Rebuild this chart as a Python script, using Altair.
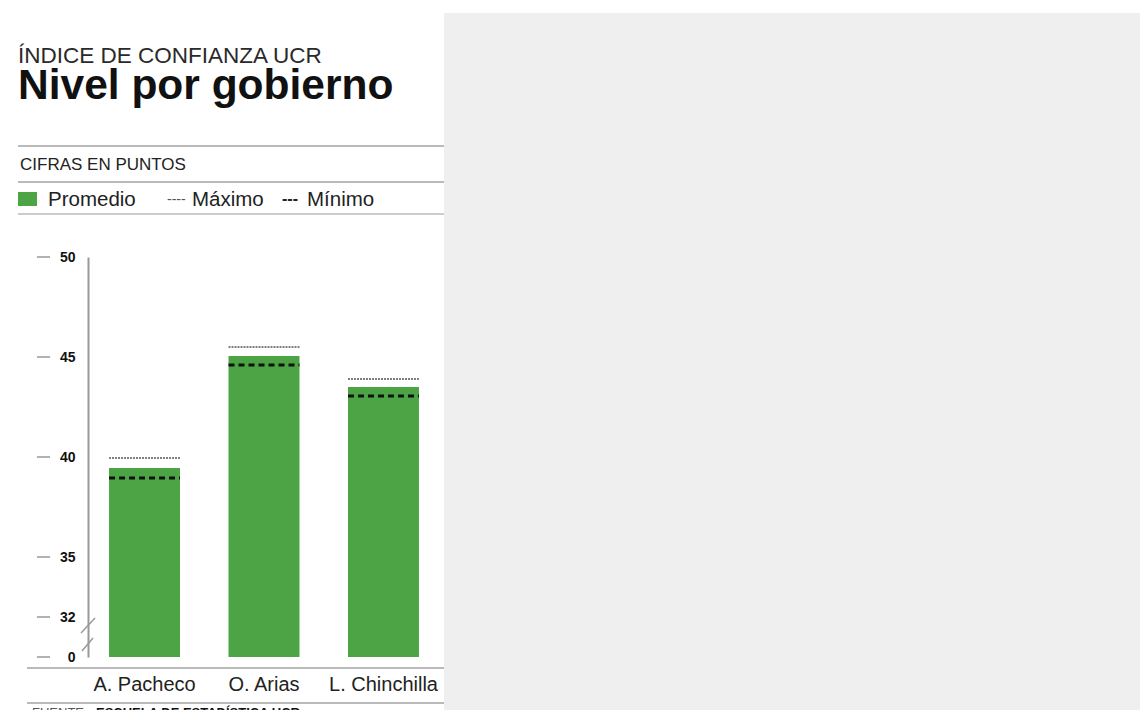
import altair as alt
import pandas as pd

# ---- data ----
gobiernos = ["A. Pacheco", "O. Arias", "L. Chinchilla"]
promedio = [39.45, 45.05, 43.5]
maximo = [39.95, 45.5, 43.9]
minimo = [38.95, 44.6, 43.05]
y_ticks = [0, 32, 35, 40, 45, 50]

kicker = "ÍNDICE DE CONFIANZA UCR"
titulo = "Nivel por gobierno"
unidades = "CIFRAS EN PUNTOS"
leyenda = ["Promedio", "Máximo", "Mínimo"]
leyenda_guiones = ["----", "---"]
fuente_a = "FUENTE:"
fuente_b = "ESCUELA DE ESTADÍSTICA UCR"

FONT = "Liberation Sans"
GREEN = "#4ca444"

df = pd.DataFrame({"gobierno": gobiernos, "promedio": promedio,
                   "maximo": maximo, "minimo": minimo})
df_ticks = pd.DataFrame({"v": y_ticks})
one = pd.DataFrame({"a": [0]})

yscale = alt.Scale(domain=[0, 32, 50], range=[400, 360, 0])
yaxis = alt.Axis(values=y_ticks, ticks=False, grid=False, title=None,
                 domainColor="#9a9a9a", domainWidth=2,
                 labelFont=FONT, labelFontWeight="bold", labelFontSize=14,
                 labelColor="#111", labelPadding=13)
xscale = alt.Scale(paddingInner=0.406, paddingOuter=0.176)
xaxis = alt.Axis(domain=False, ticks=False, labelAngle=0, title=None,
                 labelFont=FONT, labelFontSize=20, labelColor="#222",
                 labelPadding=17)
xenc = alt.X("gobierno:N", sort=gobiernos, scale=xscale, axis=xaxis)


def hrule(x1, x2, y, color="#777", w=1.2):
    return alt.Chart(one).mark_rule(color=color, strokeWidth=w).encode(
        x=alt.value(x1), x2=alt.value(x2), y=alt.value(y), y2=alt.value(y))


def text(t, x, y, size, weight="normal", color="#222"):
    return alt.Chart(pd.DataFrame({"t": [t]})).mark_text(
        align="left", baseline="alphabetic", font=FONT, fontSize=size,
        fontWeight=weight, color=color).encode(
        x=alt.value(x), y=alt.value(y), text="t:N")


gray_bg = alt.Chart(one).mark_rect(color="#efefef").encode(
    x=alt.value(356), x2=alt.value(1070), y=alt.value(-244), y2=alt.value(480))

bars = alt.Chart(df).mark_bar(color=GREEN).encode(
    x=xenc, y=alt.Y("promedio:Q", scale=yscale, axis=yaxis))

max_lines = alt.Chart(df).mark_rule(color="#555", strokeWidth=1.3,
                                    strokeDash=[2, 1]).encode(
    x=alt.X("gobierno:N", sort=gobiernos, scale=xscale, axis=xaxis, bandPosition=0),
    x2=alt.X2("gobierno", bandPosition=1),
    y=alt.Y("maximo:Q", scale=yscale, axis=yaxis))

min_lines = alt.Chart(df).mark_rule(color="#111", strokeWidth=3,
                                    strokeDash=[6, 4]).encode(
    x=alt.X("gobierno:N", sort=gobiernos, scale=xscale, axis=xaxis, bandPosition=0),
    x2=alt.X2("gobierno", bandPosition=1),
    y=alt.Y("minimo:Q", scale=yscale, axis=yaxis))

tick_dashes = alt.Chart(df_ticks).mark_rule(color="#999", strokeWidth=1.5).encode(
    y=alt.Y("v:Q", scale=yscale, axis=yaxis), x=alt.value(-51), x2=alt.value(-38))

slash1 = alt.Chart(one).mark_rule(color="#999", strokeWidth=1.5).encode(
    x=alt.value(-7), x2=alt.value(7), y=alt.value(376), y2=alt.value(361))
slash2 = alt.Chart(one).mark_rule(color="#999", strokeWidth=1.5).encode(
    x=alt.value(-6), x2=alt.value(5), y=alt.value(394), y2=alt.value(381))

legend_box = alt.Chart(one).mark_rect(color=GREEN).encode(
    x=alt.value(-70), x2=alt.value(-51), y=alt.value(-65), y2=alt.value(-51))

layers = [
    gray_bg,
    text(kicker, -70, -194, 22.5, color="#2a2a2a"),
    text(titulo, -70, -158, 42.5, weight="bold", color="#111"),
    hrule(-70, 356, -111),
    text(unidades, -68, -87, 17, color="#222"),
    hrule(-70, 356, -75),
    legend_box,
    text(leyenda[0], -40, -51, 20.5),
    text(leyenda_guiones[0], 79, -53, 14, color="#555"),
    text(leyenda[1], 104, -51, 20.5),
    text(leyenda_guiones[1], 194, -53, 16, weight="bold", color="#222"),
    text(leyenda[2], 219, -51, 20.5),
    hrule(-70, 356, -43, color="#999"),
    bars, max_lines, min_lines, tick_dashes, slash1, slash2,
    hrule(-61, 356, 411, color="#777"),
    hrule(-61, 356, 446, color="#777"),
    text(fuente_a, -56, 460, 13, color="#555"),
    text(fuente_b, 8, 460, 13, weight="bold", color="#111"),
]

chart = alt.layer(*layers).properties(
    width=352, height=400,
    autosize=alt.AutoSizeParams(type="none"),
    padding={"left": 80, "top": 249, "right": 700, "bottom": 53},
    background="white",
).configure_view(strokeWidth=0)

chart.save("out.html", embed_options={"renderer": "svg", "actions": False})
